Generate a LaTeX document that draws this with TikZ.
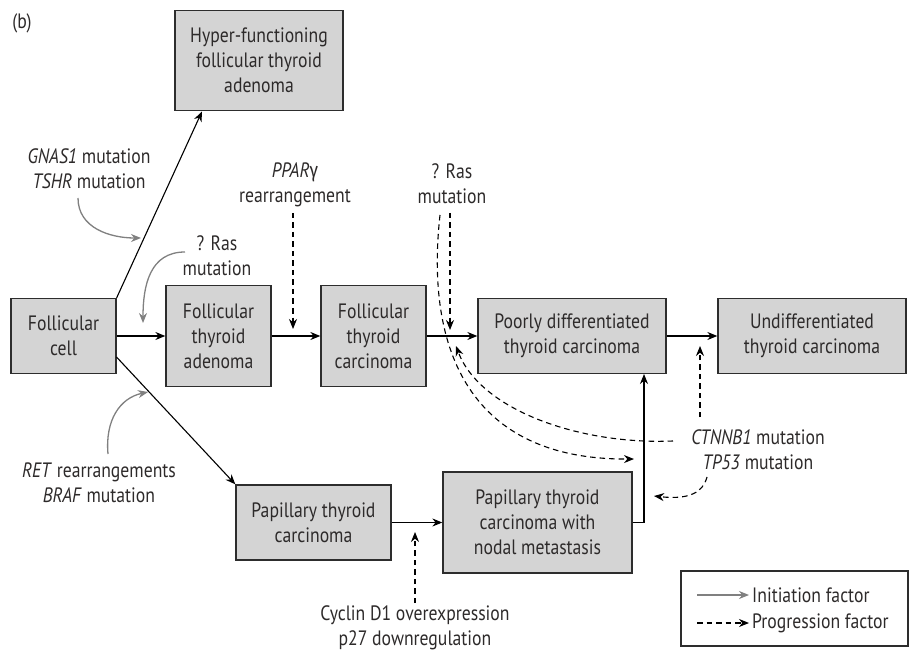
\documentclass[tikz,border=0pt]{standalone}
\usepackage{fontspec}
\setmainfont[FakeStretch=0.85]{PT Sans}
\newfontfamily\gfont[FakeStretch=0.85]{Fira Sans}
\usetikzlibrary{arrows.meta}
\definecolor{boxfill}{RGB}{212,212,212}
\definecolor{boxline}{RGB}{45,45,45}
\definecolor{initgray}{RGB}{128,128,128}
\definecolor{txt}{RGB}{45,42,42}
\begin{document}
\begin{tikzpicture}[x=1pt,y=-1pt,
  every node/.style={font=\fontsize{20.8}{25}\selectfont, text=txt},
  box/.style={draw=boxline, fill=boxfill, line width=1.3pt, align=center, inner sep=0pt},
  lab/.style={align=center, inner sep=0pt},
  main/.style={draw=black, line width=1.1pt, -{Stealth[length=10pt,width=8pt]}},
  prog/.style={draw=black, line width=1.1pt, dash pattern=on 5.5pt off 4pt, -{Stealth[length=10pt,width=8pt]}},
  init/.style={draw=initgray, line width=1.3pt, -{Stealth[length=10pt,width=8pt]}}]
\useasboundingbox (0,0) rectangle (910,652);

% boxes
\node[box, minimum width=168pt, minimum height=100pt] (hyper) at (259,60.5) {Hyper-functioning\\follicular thyroid\\adenoma};
\node[box, minimum width=105pt, minimum height=75pt] (cell) at (63.5,336) {Follicular\\cell};
\node[box, minimum width=105pt, minimum height=101pt] (fta) at (218.5,336) {Follicular\\thyroid\\adenoma};
\node[box, minimum width=105pt, minimum height=101pt] (ftc) at (373.5,336) {Follicular\\thyroid\\carcinoma};
\node[box, minimum width=188pt, minimum height=75pt] (pdtc) at (572,336) {Poorly differentiated\\thyroid carcinoma};
\node[box, minimum width=188pt, minimum height=75pt] (utc) at (812,336) {Undifferentiated\\thyroid carcinoma};
\node[box, minimum width=155pt, minimum height=75pt] (ptc) at (313.5,522.5) {Papillary thyroid\\carcinoma};
\node[box, minimum width=189pt, minimum height=101pt] (ptcn) at (537.5,522.5) {Papillary thyroid\\carcinoma with\\nodal metastasis};

% labels
\node[lab] (b) at (22,23) {(b)};
\node[lab] (gnas) at (89,169) {\textit{GNAS1} mutation\\\textit{TSHR} mutation};
\node[lab] (ras1) at (217,256) {? Ras\\mutation};
\node[lab] (ppar) at (295,185) {\textit{PPAR}{\gfont γ}\\rearrangement};
\node[lab] (ras2) at (452,184) {? Ras\\mutation};
\node[lab] (ctnn) at (758,450) {\textit{CTNNB1} mutation\\\textit{TP53} mutation};
\node[lab] (ret) at (99,483) {\textit{RET} rearrangements\\\textit{BRAF} mutation};
\node[lab] (cyc) at (415,628) {Cyclin D1 overexpression\\p27 downregulation};

% connector end points
\coordinate (hyin) at (202,111.5);
\coordinate (cellse) at (116.5,357);
\coordinate (pdin) at (644,374);
\coordinate (pparout) at (293,213);
\coordinate (pparin) at (293,329);
\coordinate (rasout) at (450,213);
\coordinate (rasin) at (450,330);
\coordinate (rascout) at (440,215);
\coordinate (rascin) at (634,459);
\coordinate (ctout) at (673,441);
\coordinate (ctin) at (456,346);
\coordinate (ctupout) at (700,417);
\coordinate (ctupin) at (700,346);
\coordinate (tpout) at (707,477);
\coordinate (tpin) at (654,496);
\coordinate (cycout) at (415,603);
\coordinate (cycin) at (415,532);
\coordinate (gnout) at (78,198);
\coordinate (gnin) at (141,238);
\coordinate (r1out) at (185,252);
\coordinate (r1in) at (143,323);
\coordinate (retout) at (108,454);
\coordinate (retin) at (148,392);

% main connectors
\draw[main] (cell.north east) -- (hyin);
\draw[main] (cell.east) -- (fta.west);
\draw[main] (fta.east) -- (ftc.west);
\draw[main] (ftc.east) -- (pdtc.west);
\draw[main] (pdtc.east) -- (utc.west);
\draw[main] (cellse) -- (ptc.north west);
\draw[main] (ptc.east) -- (ptcn.west);
\draw[main] (ptcn.east) -| (pdin);

% progression factors
\draw[prog] (pparout) -- (pparin);
\draw[prog] (rasout) -- (rasin);
\draw[prog] (rascout) .. controls (425,350) and (470,460) .. (rascin);
\draw[prog] (ctout) .. controls (580,445) and (480,410) .. (ctin);
\draw[prog] (ctupout) -- (ctupin);
\draw[prog] (tpout) .. controls (703,492) and (690,500) .. (tpin);
\draw[prog] (cycout) -- (cycin);

% initiation factors
\draw[init] (gnout) .. controls (78,228) and (110,238) .. (gnin);
\draw[init] (r1out) .. controls (150,252) and (143,285) .. (r1in);
\draw[init] (retout) .. controls (105,420) and (120,398) .. (retin);

% legend
\node[draw=boxline, line width=1.3pt, minimum width=227pt, minimum height=75pt, inner sep=0pt] (legend) at (794.5,608.5) {};
\coordinate (l1a) at (697,595);
\coordinate (l1b) at (749,595);
\coordinate (l2a) at (697,623);
\coordinate (l2b) at (749,623);
\draw[init] (l1a) -- (l1b);
\draw[prog] (l2a) -- (l2b);
\node[lab, anchor=west] (l1t) at (752,595) {Initiation factor};
\node[lab, anchor=west] (l2t) at (752,623) {Progression factor};
\end{tikzpicture}
\end{document}
